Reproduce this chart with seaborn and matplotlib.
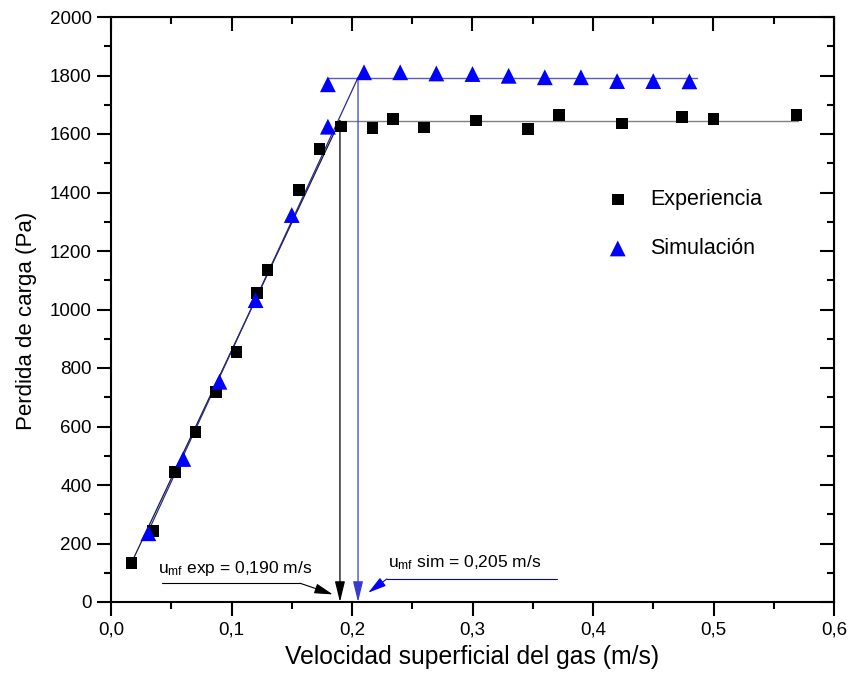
import matplotlib
matplotlib.use("Agg")
import matplotlib.pyplot as plt
import seaborn as sns
from matplotlib.ticker import MultipleLocator, FuncFormatter

# ---- data ----
exp_x = [0.017, 0.035, 0.053, 0.070, 0.087, 0.104, 0.121, 0.130, 0.156, 0.173,
         0.191, 0.217, 0.234, 0.260, 0.303, 0.346, 0.372, 0.424, 0.474, 0.500, 0.569]
exp_y = [134, 243, 445, 582, 717, 855, 1056, 1135, 1409, 1549,
         1625, 1621, 1651, 1622, 1646, 1617, 1664, 1636, 1658, 1651, 1664]

sim_x = [0.031, 0.060, 0.090, 0.120, 0.150, 0.180, 0.180, 0.210, 0.240, 0.270,
         0.300, 0.330, 0.360, 0.390, 0.420, 0.450, 0.480]
sim_y = [235, 489, 753, 1032, 1323, 1625, 1770, 1811, 1811, 1807,
         1805, 1799, 1794, 1794, 1781, 1781, 1780]

# fitted lines
exp_rise_x = [0.017, 0.190]
exp_rise_y = [134, 1646]
exp_plateau_x = [0.190, 0.570]
exp_plateau_y = [1646, 1646]
sim_rise_x = [0.028, 0.205]
sim_rise_y = [215, 1793]
sim_plateau_x = [0.180, 0.486]
sim_plateau_y = [1793, 1793]

umf_exp = 0.190
umf_sim = 0.205

x_ticks = [0.0, 0.1, 0.2, 0.3, 0.4, 0.5, 0.6]
y_ticks = [0, 200, 400, 600, 800, 1000, 1200, 1400, 1600, 1800, 2000]

# ---- style ----
sns.set_style("ticks")
plt.rcParams["font.family"] = ["Liberation Sans", "DejaVu Sans"]
plt.rcParams["mathtext.fontset"] = "custom"
plt.rcParams["mathtext.rm"] = "Liberation Sans"
plt.rcParams["mathtext.it"] = "Liberation Sans:italic"
plt.rcParams["text.color"] = "black"
plt.rcParams["axes.labelcolor"] = "black"
plt.rcParams["xtick.color"] = "black"
plt.rcParams["ytick.color"] = "black"

fig = plt.figure(figsize=(8.5, 6.81), dpi=100)
ax = fig.add_axes([111 / 850, 1 - 602 / 681, (834 - 111) / 850, (602 - 17) / 681])

# lines
ax.plot(exp_rise_x, exp_rise_y, color="#1a1a3a", lw=0.9, zorder=2)
ax.plot(exp_plateau_x, exp_plateau_y, color="#808080", lw=1.0, zorder=2)
ax.plot(sim_rise_x, sim_rise_y, color="#2a2a90", lw=0.9, zorder=2)
ax.plot(sim_plateau_x, sim_plateau_y, color="#5a5ac0", lw=1.0, zorder=2)

# vertical arrows at umf
ax.annotate("", xy=(umf_exp, 0), xytext=(umf_exp, exp_plateau_y[0]),
            arrowprops=dict(arrowstyle="-|>,head_length=0.9,head_width=0.22",
                            color="black", lw=0.9, shrinkA=0, shrinkB=0,
                            mutation_scale=14), zorder=3)
ax.annotate("", xy=(umf_sim, 0), xytext=(umf_sim, sim_plateau_y[0]),
            arrowprops=dict(arrowstyle="-|>,head_length=0.9,head_width=0.22",
                            color="#3a3ad0", lw=0.9, shrinkA=0, shrinkB=0,
                            mutation_scale=14), zorder=3)

# scatter points
sns.scatterplot(x=exp_x, y=exp_y, marker="s", s=70, color="black",
                edgecolor="none", label="Experiencia", ax=ax, zorder=4)
sns.scatterplot(x=sim_x, y=sim_y, marker="^", s=130, color="#0000ff",
                edgecolor="none", label="Simulación", ax=ax, zorder=4)

# annotation leaders
ax.plot([0.042, 0.157], [64, 64], color="black", lw=0.8)
ax.annotate("", xy=(0.184, 26), xytext=(0.157, 64),
            arrowprops=dict(arrowstyle="-|>,head_length=0.8,head_width=0.22",
                            color="black", lw=0.8, shrinkA=0, shrinkB=0,
                            mutation_scale=14))
ax.plot([0.229, 0.370], [79, 79], color="#0000cc", lw=0.8)
ax.annotate("", xy=(0.2135, 32), xytext=(0.229, 79),
            arrowprops=dict(arrowstyle="-|>,head_length=0.8,head_width=0.22",
                            color="#0000ff", lw=0.8, shrinkA=0, shrinkB=0,
                            mutation_scale=14))
ax.text(0.039, 100, r"u$_{\mathrm{mf}}$ exp = 0,190 m/s", fontsize=12.5,
        color="black", ha="left", va="baseline")
ax.text(0.230, 117, r"u$_{\mathrm{mf}}$ sim = 0,205 m/s", fontsize=12.5,
        color="black", ha="left", va="baseline")

# axes
ax.set_xlim(0, 0.6)
ax.set_ylim(0, 2000)
ax.set_xticks(x_ticks)
ax.set_yticks(y_ticks)
ax.xaxis.set_minor_locator(MultipleLocator(0.05))
ax.yaxis.set_minor_locator(MultipleLocator(100))
ax.xaxis.set_major_formatter(FuncFormatter(lambda v, p: f"{v:.1f}".replace(".", ",")))
ax.tick_params(axis="both", which="major", direction="out", length=10, width=1.5,
               labelsize=13.5, pad=4, colors="black")
ax.tick_params(axis="both", which="minor", direction="out", length=5, width=1.5)
for sp in ax.spines.values():
    sp.set_visible(True)
    sp.set_linewidth(1.5)
    sp.set_color("black")

# top / right inward ticks
top = ax.secondary_xaxis("top")
top.set_xticks(x_ticks)
top.xaxis.set_minor_locator(MultipleLocator(0.05))
top.tick_params(which="major", direction="in", length=10, width=1.5, labeltop=False)
top.tick_params(which="minor", direction="in", length=5, width=1.5)
right = ax.secondary_yaxis("right")
right.set_yticks(y_ticks)
right.yaxis.set_minor_locator(MultipleLocator(100))
right.tick_params(which="major", direction="in", length=10, width=1.5, labelright=False)
right.tick_params(which="minor", direction="in", length=5, width=1.5)

ax.set_xlabel("Velocidad superficial del gas (m/s)", fontsize=17.8, labelpad=5)
ax.set_ylabel("Perdida de carga (Pa)", fontsize=16)
ax.yaxis.set_label_coords(-0.1024, 0.48)

leg = ax.legend(loc="center left", bbox_to_anchor=(0.686, 0.646), frameon=False,
                fontsize=15.5, handlelength=1.0, handletextpad=1.0,
                labelspacing=1.3, borderpad=0, borderaxespad=0)

fig.savefig("out.png", dpi=100)
